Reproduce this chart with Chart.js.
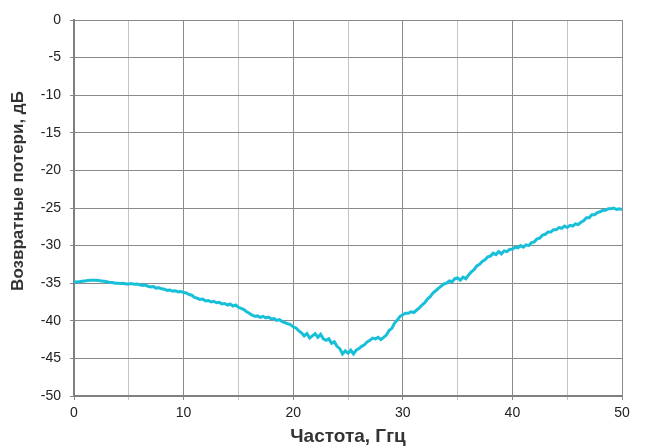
<!DOCTYPE html>
<html><head><meta charset="utf-8">
<script src="https://cdn.jsdelivr.net/npm/chart.js@4/dist/chart.umd.min.js"></script>
<style>html,body{margin:0;padding:0;background:#fff}#c{display:block}</style>
</head><body>
<canvas id="c" width="645" height="446"></canvas>
<script>
const frequencyStep = 0.25;
const returnLoss = [
 -34.8,-34.85,-34.8,-34.75,-34.7,-34.65,-34.6,-34.6,-34.6,-34.65,
 -34.7,-34.75,-34.8,-34.9,-34.9,-35.0,-35.0,-35.05,-35.0,-35.1,
 -35.1,-35.05,-35.15,-35.1,-35.2,-35.3,-35.25,-35.4,-35.5,-35.45,
 -35.65,-35.6,-35.75,-35.8,-35.95,-35.9,-36.05,-36.0,-36.15,-36.1,
 -36.25,-36.3,-36.5,-36.6,-36.9,-37.0,-37.15,-37.1,-37.35,-37.3,
 -37.5,-37.4,-37.6,-37.55,-37.75,-37.7,-37.9,-37.75,-38.05,-37.9,
 -38.2,-38.35,-38.5,-38.8,-39.0,-39.25,-39.4,-39.35,-39.55,-39.4,
 -39.6,-39.5,-39.75,-39.7,-39.95,-39.85,-40.1,-40.25,-40.4,-40.5,
 -40.8,-40.95,-41.3,-41.6,-42.0,-41.7,-42.3,-42.0,-41.7,-42.2,
 -41.8,-42.4,-42.6,-42.4,-43.0,-42.8,-43.4,-43.7,-44.4,-44.0,
 -44.3,-43.9,-44.4,-43.9,-43.7,-43.4,-43.2,-42.8,-42.6,-42.3,
 -42.4,-42.2,-42.5,-42.2,-41.9,-41.3,-41.0,-40.3,-39.9,-39.4,
 -39.2,-39.0,-39.0,-38.8,-38.9,-38.6,-38.3,-37.9,-37.6,-37.1,
 -36.8,-36.3,-36.0,-35.7,-35.4,-35.1,-35.0,-34.7,-34.8,-34.4,
 -34.3,-34.6,-34.2,-34.4,-33.9,-33.5,-33.2,-32.7,-32.5,-32.1,
 -31.9,-31.5,-31.4,-31.0,-31.2,-30.8,-31.1,-30.7,-30.8,-30.5,
 -30.5,-30.2,-30.3,-30.0,-30.2,-29.9,-30.0,-29.6,-29.5,-29.1,
 -29.0,-28.6,-28.5,-28.2,-28.2,-27.9,-27.9,-27.6,-27.7,-27.4,
 -27.6,-27.3,-27.4,-27.1,-27.2,-26.9,-26.7,-26.3,-26.3,-25.9,
 -25.9,-25.6,-25.5,-25.3,-25.3,-25.1,-25.1,-25.0,-25.2,-25.1,
 -25.2
];
const xTicks = [0, 10, 20, 30, 40, 50];
const yTicks = [0, -5, -10, -15, -20, -25, -30, -35, -40, -45, -50];
const xTitle = 'Частота, Ггц';
const yTitle = 'Возвратные потери, дБ';

const points = returnLoss.map((v, i) => ({x: i * frequencyStep, y: v}));
const fontFamily = '"Liberation Sans", Arial, sans-serif';

const yTitlePlugin = {
  id: 'yTitle',
  afterDraw(chart) {
    const ctx = chart.ctx;
    ctx.save();
    ctx.translate(18, 191);
    ctx.rotate(-Math.PI / 2);
    ctx.font = 'bold 17px ' + fontFamily;
    ctx.fillStyle = '#333';
    ctx.textAlign = 'center';
    ctx.textBaseline = 'middle';
    ctx.fillText(yTitle, 0, 0);
    ctx.restore();
  }
};

new Chart(document.getElementById('c'), {
  type: 'line',
  data: { datasets: [{ data: points, borderColor: '#18bfd9', borderWidth: 3, pointRadius: 0, tension: 0, fill: false }] },
  options: {
    responsive: false, animation: false,
    layout: { padding: { top: 20, right: 23, left: 0, bottom: 0 } },
    plugins: { legend: { display: false }, tooltip: { enabled: false } },
    scales: {
      x: {
        type: 'linear', min: 0, max: 50,
        afterFit: s => { s.height = 50; },
        ticks: { stepSize: 5, autoSkip: false, maxRotation: 0, padding: 5, color: '#222',
          font: { family: fontFamily, size: 14 },
          callback: v => xTicks.includes(v) ? String(v) : '' },
        grid: { color: c => (c.tick && c.tick.value % 10 === 0) ? '#8a8a8a' : '#c4c4c4', lineWidth: 1, drawTicks: true, tickLength: 4 },
        border: { color: '#808080', width: 2 },
        title: { display: true, text: xTitle, color: '#333', font: { family: fontFamily, size: 19, weight: 'bold', lineHeight: 1 }, padding: { top: 0, bottom: 0 } }
      },
      y: {
        min: -50, max: 0,
        afterFit: s => { s.width = 74; },
        afterBuildTicks: s => { s.ticks = yTicks.map(v => ({value: v})); },
        ticks: { padding: 9, color: '#222', font: { family: fontFamily, size: 14 } },
        grid: { color: '#8a8a8a', lineWidth: 1, drawTicks: true, tickLength: 4 },
        border: { color: '#808080', width: 2 },
        title: { display: false, text: yTitle }
      }
    }
  },
  plugins: [yTitlePlugin]
});
</script>
</body></html>
